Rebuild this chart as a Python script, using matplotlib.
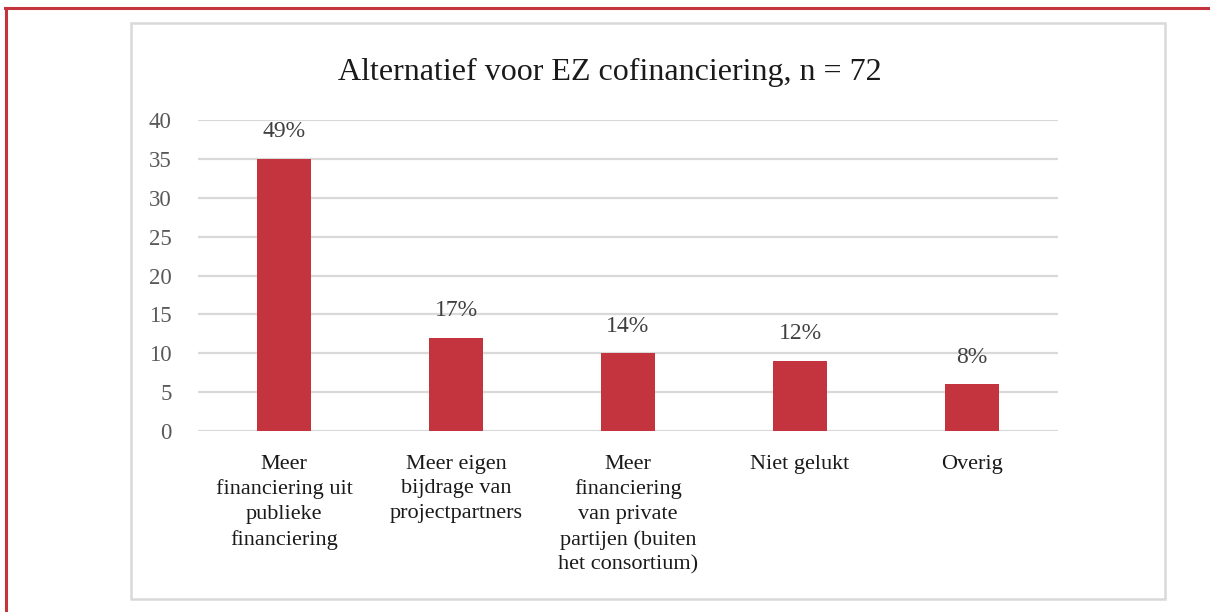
import matplotlib
matplotlib.use("Agg")
import matplotlib.pyplot as plt
from matplotlib.patches import Rectangle
from matplotlib.lines import Line2D

# data
categories = [
    "Meer\nfinanciering uit\npublieke\nfinanciering",
    "Meer eigen\nbijdrage van\nprojectpartners",
    "Meer\nfinanciering\nvan private\npartijen (buiten\nhet consortium)",
    "Niet gelukt",
    "Overig",
]
counts = [35, 12, 10, 9, 6]
n_total = 72
yticks = [0, 5, 10, 15, 20, 25, 30, 35, 40]

bar_color = "#C3343F"
grid_color = "#D9D9D9"
plt.rcParams["font.family"] = ["Liberation Serif", "DejaVu Serif"]

fig = plt.figure(figsize=(12.1, 6.12), dpi=100)

# outer red frame (top + left) and grey chart box
fig.add_artist(Line2D([5 / 1210, 1.0], [1 - 8 / 612, 1 - 8 / 612],
                      transform=fig.transFigure, color=bar_color, lw=2.2))
fig.add_artist(Line2D([6 / 1210, 6 / 1210], [0, 1 - 8 / 612],
                      transform=fig.transFigure, color=bar_color, lw=2.2))
fig.add_artist(Rectangle((131 / 1210, 13 / 612), 1034 / 1210, 576 / 612,
                         transform=fig.transFigure, fill=False,
                         edgecolor=grid_color, lw=1.8))

ax = fig.add_axes([198 / 1210, 181 / 612, 860 / 1210, 311 / 612])
x = range(len(categories))
bars = ax.bar(x, counts, width=0.31, color=bar_color, zorder=3)

for b, c in zip(bars, counts):
    pct = round(100 * c / n_total)
    ax.annotate(f"{pct}%", (b.get_x() + b.get_width() / 2, c),
                xytext=(0, 12), textcoords="offset points",
                ha="center", va="bottom", fontsize=17, color="#404040")

ax.set_xlim(-0.5, len(categories) - 0.5)
ax.set_ylim(0, 40)
ax.set_yticks(yticks)
ax.set_yticklabels([str(t) for t in yticks], fontsize=16.5, color="#595959")
ax.set_xticks(list(x))
ax.set_xticklabels(categories, fontsize=16, color="#1a1a1a")
for lbl in ax.get_xticklabels():
    lbl.set_linespacing(1.4)
ax.tick_params(axis="both", length=0)
ax.tick_params(axis="y", pad=19)
ax.tick_params(axis="x", pad=17)
ax.yaxis.grid(True, color=grid_color, lw=1.6, zorder=0)
for s in ax.spines.values():
    s.set_visible(False)

fig.text(610 / 1210, 1 - 72 / 612, "Alternatief voor EZ cofinanciering, n = " + str(n_total),
         ha="center", va="center", fontsize=23, color="#1a1a1a")

fig.savefig("out.png", dpi=100)
